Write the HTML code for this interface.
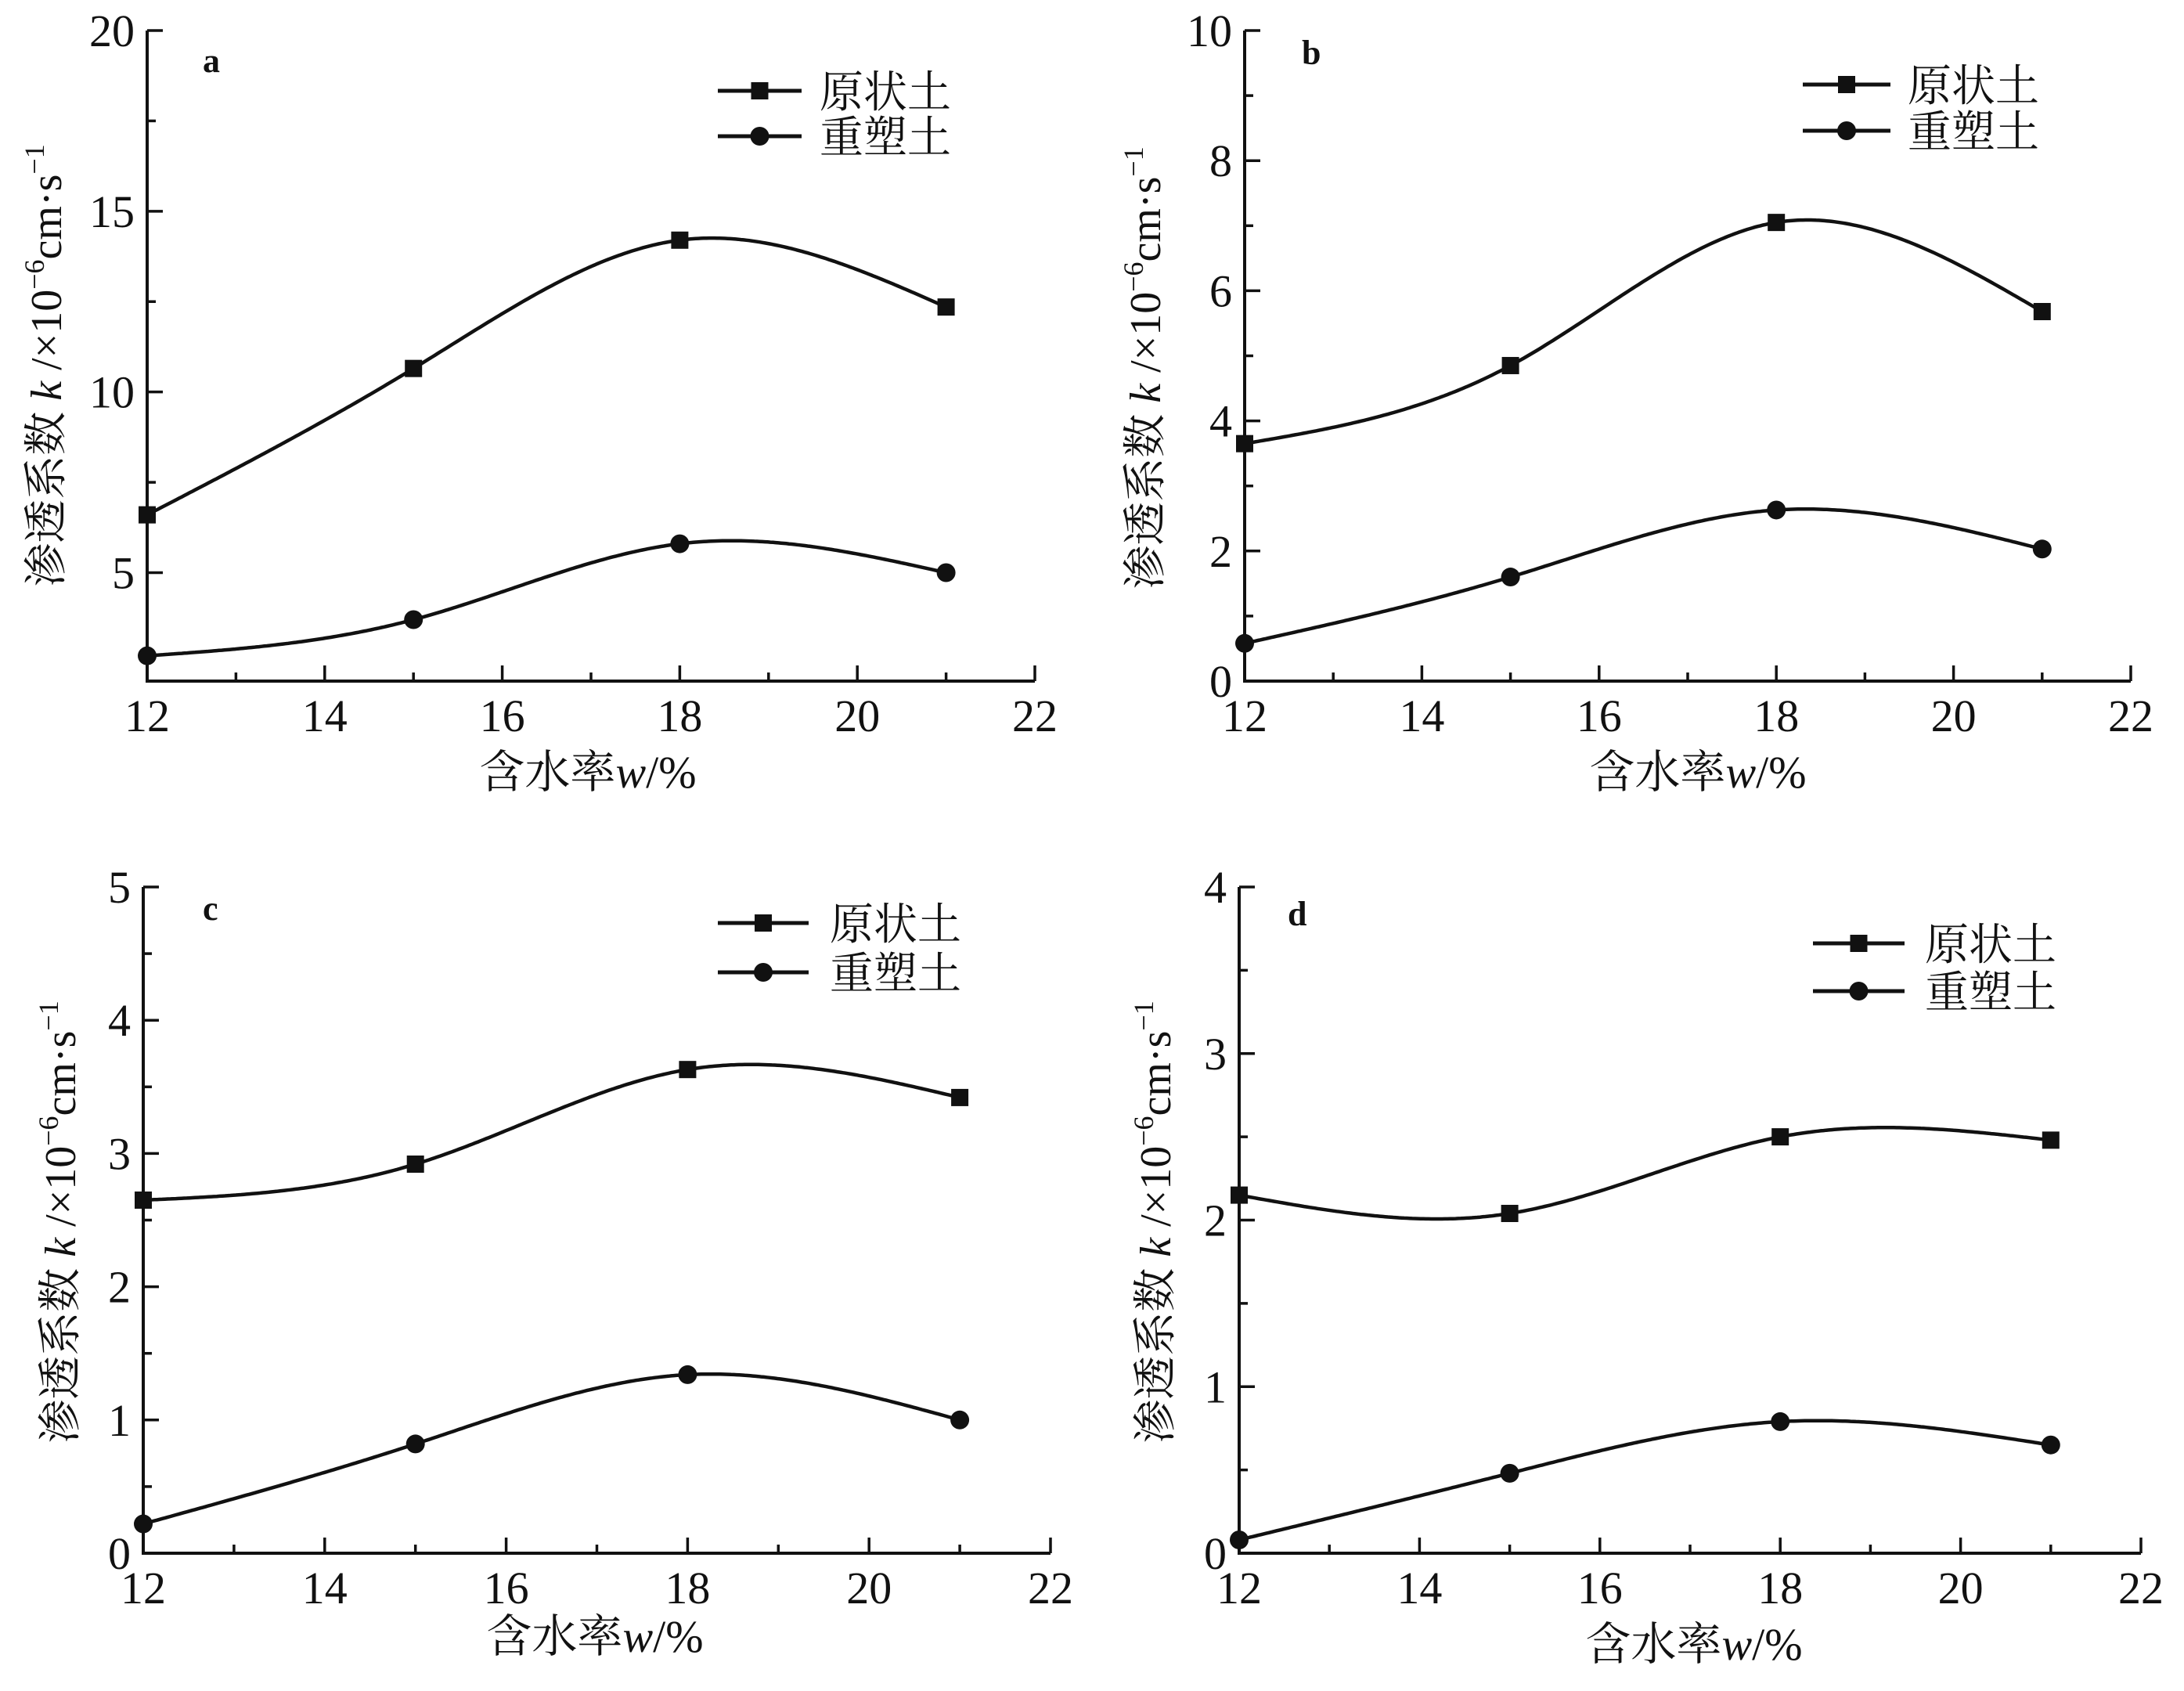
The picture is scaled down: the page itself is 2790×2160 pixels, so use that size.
<!DOCTYPE html>
<html><head><meta charset="utf-8"><style>
html,body{margin:0;padding:0;background:#fff;}
svg{display:block;}
text{font-family:"Liberation Serif","Noto Serif CJK SC","Noto Sans CJK SC",serif;fill:#111;}
</style></head><body>
<svg id="s" width="2790" height="2160" viewBox="0 0 2790 2160" xmlns="http://www.w3.org/2000/svg"></svg>
<script>
const S=document.getElementById('s');
let h='';
const panels=[
{x0:188,x1:1322,yt:39,yb:870,ymin:2,ymax:20,maj:[5,10,15,20],min:[7.5,12.5,17.5],lab:'a',lx:259,ly:92,
 lg:[917,1024,116,174,1047],xt:[751,1006],yt2:[58,467],
 A:[6.6,10.65,14.2,12.35],B:[2.7,3.7,5.8,5.0]},
{x0:1590,x1:2722,yt:39,yb:870,ymin:0,ymax:10,maj:[0,2,4,6,8,10],min:[1,3,5,7,9],lab:'b',lx:1663,ly:82,
 lg:[2303,2415,108,167,2437],xt:[2169,1006],yt2:[1462,470],
 A:[3.65,4.85,7.05,5.68],B:[0.58,1.6,2.63,2.03]},
{x0:183,x1:1342,yt:1133,yb:1984,ymin:0,ymax:5,maj:[0,1,2,3,4,5],min:[0.5,1.5,2.5,3.5,4.5],lab:'c',lx:259,ly:1175,
 lg:[917,1033,1179,1242,1060],xt:[760,2110],yt2:[76,1561],
 A:[2.65,2.92,3.63,3.42],B:[0.22,0.82,1.34,1.0]},
{x0:1583,x1:2735,yt:1133,yb:1984,ymin:0,ymax:4,maj:[0,1,2,3,4],min:[0.5,1.5,2.5,3.5],lab:'d',lx:1645,ly:1182,
 lg:[2316,2433,1205,1266,2459],xt:[2164,2120],yt2:[1475,1561],
 A:[2.15,2.04,2.5,2.48],B:[0.08,0.48,0.79,0.65]}
];
function spline(xs,ys){
 const n=xs.length, hh=[],al=[],l=[1],mu=[0],z=[0],c=new Array(n).fill(0),b=[],d=[];
 for(let i=0;i<n-1;i++)hh[i]=xs[i+1]-xs[i];
 for(let i=1;i<n-1;i++)al[i]=3/hh[i]*(ys[i+1]-ys[i])-3/hh[i-1]*(ys[i]-ys[i-1]);
 for(let i=1;i<n-1;i++){l[i]=2*(xs[i+1]-xs[i-1])-hh[i-1]*mu[i-1];mu[i]=hh[i]/l[i];z[i]=(al[i]-hh[i-1]*z[i-1])/l[i];}
 l[n-1]=1;z[n-1]=0;c[n-1]=0;
 for(let j=n-2;j>=0;j--){c[j]=z[j]-mu[j]*c[j+1];b[j]=(ys[j+1]-ys[j])/hh[j]-hh[j]*(c[j+1]+2*c[j])/3;d[j]=(c[j+1]-c[j])/(3*hh[j]);}
 return x=>{let j=Math.min(n-2,Math.max(0,xs.findIndex((v,k)=>k<n-1&&x<=xs[k+1])));if(j<0)j=n-2;const t=x-xs[j];return ys[j]+b[j]*t+c[j]*t*t+d[j]*t*t*t;};
}
const W=[12,15,18,21];
for(const p of panels){
 const X=v=>p.x0+(v-12)*(p.x1-p.x0)/10;
 const Y=v=>p.yb-(v-p.ymin)*(p.yb-p.yt)/(p.ymax-p.ymin);
 h+=`<line x1="${p.x0}" y1="${p.yt}" x2="${p.x0}" y2="${p.yb}" stroke="#111" stroke-width="4"/>`;
 h+=`<line x1="${p.x0-2}" y1="${p.yb}" x2="${p.x1}" y2="${p.yb}" stroke="#111" stroke-width="4"/>`;
 for(let v=12;v<=22;v++){const big=v%2==0;const x=X(v);
  h+=`<line x1="${x}" y1="${p.yb}" x2="${x}" y2="${p.yb-(big?20:11)}" stroke="#111" stroke-width="3.5"/>`;
  if(big)h+=`<text x="${x}" y="${p.yb+64}" font-size="58" text-anchor="middle">${v}</text>`;}
 for(const v of p.maj){const y=Y(v);
  h+=`<line x1="${p.x0}" y1="${y}" x2="${p.x0+20}" y2="${y}" stroke="#111" stroke-width="3.5"/>`;
  h+=`<text x="${p.x0-16}" y="${y+20}" font-size="58" text-anchor="end">${v}</text>`;}
 for(const v of p.min){const y=Y(v);h+=`<line x1="${p.x0}" y1="${y}" x2="${p.x0+11}" y2="${y}" stroke="#111" stroke-width="3.5"/>`;}
 for(const [ser,sq] of [[p.A,1],[p.B,0]]){
  const f=spline(W,ser);let d='';
  for(let k=0;k<=300;k++){const v=12+9*k/300;d+=(k?'L':'M')+X(v).toFixed(1)+','+Y(f(v)).toFixed(1);}
  h+=`<path d="${d}" fill="none" stroke="#111" stroke-width="4.5"/>`;
  W.forEach((w,i)=>{const x=X(w),y=Y(ser[i]);
   h+=sq?`<rect x="${x-11}" y="${y-11}" width="22" height="22" fill="#111"/>`:`<circle cx="${x}" cy="${y}" r="12" fill="#111"/>`;});
 }
 const [a,b,y1,y2,tx]=p.lg;
 h+=`<line x1="${a}" y1="${y1}" x2="${b}" y2="${y1}" stroke="#111" stroke-width="5"/><rect x="${(a+b)/2-11}" y="${y1-11}" width="22" height="22" fill="#111"/>`;
 h+=`<line x1="${a}" y1="${y2}" x2="${b}" y2="${y2}" stroke="#111" stroke-width="5"/><circle cx="${(a+b)/2}" cy="${y2}" r="12" fill="#111"/>`;
 h+=`<text x="${tx}" y="${y1+21}" font-size="56">原状土</text><text x="${tx}" y="${y2+21}" font-size="56">重塑土</text>`;
 h+=`<text x="${p.lx}" y="${p.ly}" font-size="44" font-weight="bold">${p.lab}</text>`;
 h+=`<text x="${p.xt[0]}" y="${p.xt[1]}" font-size="58" text-anchor="middle">含水率<tspan font-style="italic">w</tspan>/%</text>`;
 h+=`<text transform="translate(${p.yt2[0]+20},${p.yt2[1]}) rotate(-90)" font-size="56" text-anchor="middle">渗透系数 <tspan font-style="italic">k</tspan> /×10<tspan font-size="36" dy="-22">−6</tspan><tspan dy="22">cm·s</tspan><tspan font-size="36" dy="-22">−1</tspan></text>`;
}
S.innerHTML=h;
</script>
</body></html>
